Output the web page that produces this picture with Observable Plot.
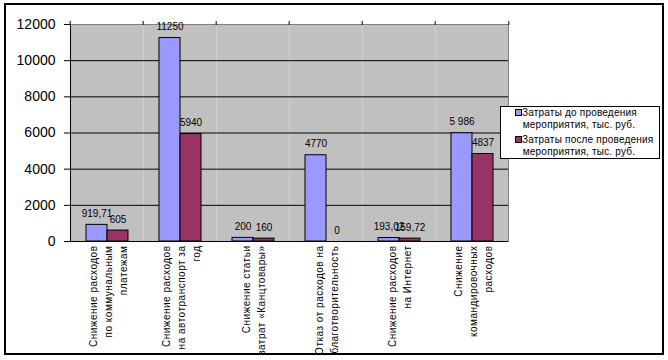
<!DOCTYPE html>
<html><head><meta charset="utf-8">
<script src="https://cdn.jsdelivr.net/npm/d3@7"></script>
<script src="https://cdn.jsdelivr.net/npm/@observablehq/plot@0.6"></script>
<style>
body{margin:0;background:#fff;}
#wrap{position:relative;width:668px;height:360px;overflow:hidden;}
#border{position:absolute;left:4px;top:3px;width:656px;height:348px;border:2px solid #000;pointer-events:none;}
#legend{position:absolute;left:500px;top:106px;width:158px;height:51px;border:1px solid #000;background:#fff;font:10px Arial,"Liberation Sans",sans-serif;color:#000;}
.item{position:absolute;left:14px;}
.sw{position:absolute;left:0;top:2px;width:5px;height:5px;border:1px solid #000;}
.tx{position:absolute;left:7px;width:114px;text-align:center;line-height:12px;white-space:nowrap;letter-spacing:0.2px;}
#chart g[font-size="10px"] text{letter-spacing:0.5px;}
</style>
</head><body>
<div id="wrap"><div id="chart"></div><div id="legend"></div><div id="border"></div></div>
<script>
const categories = [
  "Снижение расходов\nпо коммунальным\nплатежам",
  "Снижение расходов\nна автотранспорт за\nгод",
  "Снижение статьи\nзатрат «Канцтовары»",
  "Отказ от расходов на\nблаготворительность",
  "Снижение расходов\nна Интернет",
  "Снижение\nкомандировочных\nрасходов"
];
const series = ["Затраты до проведения мероприятия, тыс. руб.", "Затраты после проведения мероприятия, тыс. руб."];
const legendLines = [["Затраты до проведения", "мероприятия, тыс. руб."], ["Затраты после проведения", "мероприятия, тыс. руб."]];
const before = [919.71, 11250, 200, 4770, 193.02, 5986];
const after = [605, 5940, 160, 0, 159.72, 4837];
const beforeLabels = ["919,71", "11250", "200", "4770", "193,02", "5 986"];
const afterLabels = ["605", "5940", "160", "0", "159,72", "4837"];
const colors = ["#9999ff", "#993366"];
const yTicks = [0, 2000, 4000, 6000, 8000, 10000, 12000];

const rows = categories.flatMap((c, i) => [
  {cat: c, s: series[0], v: before[i], t: beforeLabels[i]},
  {cat: c, s: series[1], v: after[i], t: afterLabels[i]}
]);

const W = 668, H = 360, ML = 68, MR = 158, MT = 24, MB = 119;
const step = (W - ML - MR) / categories.length;

const chart = Plot.plot({
  width: W, height: H, marginLeft: ML, marginRight: MR, marginTop: MT, marginBottom: MB,
  style: {fontFamily: "Arial, 'Liberation Sans', sans-serif", fontSize: "10px", color: "#000", background: "transparent"},
  fx: {domain: categories, padding: 0, axis: null, label: null},
  x: {domain: series, paddingInner: 0, paddingOuter: 0.675, axis: null},
  y: {domain: [0, 12000], axis: null},
  color: {domain: series, range: colors},
  marks: [
    Plot.frame({fill: "#c0c0c0", stroke: null}),
    Plot.ruleY(yTicks.slice(1, -1), {stroke: "#000"}),
    Plot.ruleY([12000], {stroke: "#808080"}),
    Plot.frame({anchor: "right", stroke: "#808080", facet: "super"}),
    Plot.barY(rows, {fx: "cat", x: "s", y: "v", fill: "s", stroke: "#000", strokeWidth: 1}),
    Plot.text(rows, {fx: "cat", x: "s", y: "v", text: "t", dy: -11, fontSize: 10, fill: "#000"}),
    Plot.ruleY([0], {stroke: "#000"}),
    Plot.frame({anchor: "left", stroke: "#000", facet: "super"}),
    Plot.axisY({ticks: yTicks, tickFormat: "d", tickSize: 6, tickPadding: 9, fontSize: 14, label: null}),
    Plot.axisFx({tickSize: 4, tickFormat: () => "", dx: -step / 2, label: null}),
    Plot.axisFx({ticks: [categories[categories.length - 1]], tickSize: 4, tickFormat: () => "", dx: step / 2, label: null}),
    Plot.text(categories, {fx: d => d, text: d => d, frameAnchor: "bottom", rotate: -90, textAnchor: "end", lineAnchor: "middle", dy: 4, lineHeight: 1.5, fontSize: "10px", fill: "#000"})
  ]
});
document.getElementById("chart").appendChild(chart);

const legend = document.getElementById("legend");
legendLines.forEach((lines, i) => {
  const item = document.createElement("div");
  item.className = "item";
  item.style.top = (i * 27) + "px";
  const sw = document.createElement("div");
  sw.className = "sw";
  sw.style.background = colors[i];
  const tx = document.createElement("div");
  tx.className = "tx";
  tx.innerHTML = lines.join("<br>");
  item.appendChild(sw); item.appendChild(tx);
  legend.appendChild(item);
});
</script>
</body></html>
